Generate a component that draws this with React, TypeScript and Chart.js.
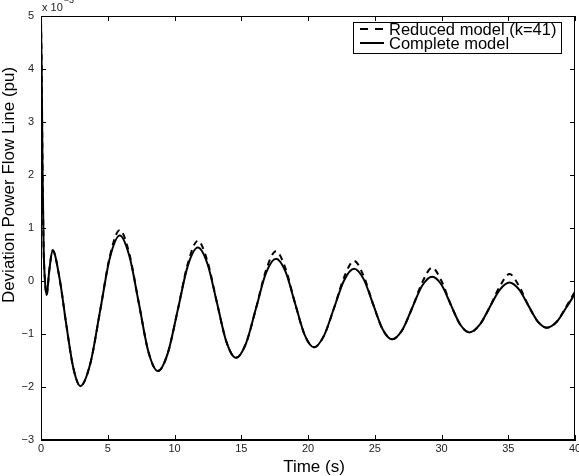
import { useEffect, useRef } from 'react';
import { Chart, registerables } from 'chart.js';

Chart.register(...registerables);

// ---- data (deviation values in units of 1e-3 pu) ----
const time = [
  0, 0.05, 0.12, 0.2, 0.3, 0.42, 0.62, 0.87,
  1.39, 1.91, 2.43, 2.95,
  3.69, 4.43, 5.16, 5.9,
  6.61, 7.33, 8.04, 8.75,
  9.5, 10.25, 11.0, 11.75,
  12.46, 13.18, 13.89, 14.6,
  15.35, 16.1, 16.85, 17.6,
  18.31, 19.03, 19.74, 20.45,
  21.2, 21.95, 22.7, 23.45,
  24.16, 24.88, 25.59, 26.3,
  27.05, 27.8, 28.55, 29.3,
  30.0, 30.7, 31.4, 32.1,
  32.85, 33.6, 34.35, 35.1,
  35.8, 36.5, 37.2, 37.9,
  38.63, 39.35, 40,
];

const completeModel = [
  4.9, 4.0, 2.0, 0.6, 0.0, -0.27, 0.2, 0.58,
  0.05, -0.85, -1.65, -1.98,
  -1.56, -0.56, 0.44, 0.86,
  0.48, -0.42, -1.33, -1.70,
  -1.36, -0.54, 0.29, 0.63,
  0.33, -0.41, -1.15, -1.45,
  -1.18, -0.52, 0.15, 0.42,
  0.18, -0.42, -1.01, -1.25,
  -1.03, -0.51, 0.01, 0.23,
  0.04, -0.44, -0.91, -1.10,
  -0.93, -0.51, -0.09, 0.08,
  -0.07, -0.45, -0.82, -0.97,
  -0.83, -0.50, -0.17, -0.03,
  -0.16, -0.46, -0.76, -0.88,
  -0.77, -0.50, -0.24,
];

const reducedModel = [
  4.9, 4.0, 2.0, 0.6, 0.0, -0.27, 0.2, 0.58,
  0.05, -0.85, -1.65, -1.98,
  -1.56, -0.56, 0.47, 0.96,
  0.52, -0.42, -1.33, -1.70,
  -1.36, -0.54, 0.33, 0.76,
  0.38, -0.41, -1.15, -1.45,
  -1.18, -0.52, 0.20, 0.56,
  0.24, -0.42, -1.01, -1.25,
  -1.03, -0.51, 0.07, 0.38,
  0.10, -0.44, -0.91, -1.10,
  -0.93, -0.51, -0.03, 0.25,
  0.00, -0.45, -0.82, -0.97,
  -0.83, -0.50, -0.11, 0.13,
  -0.09, -0.46, -0.76, -0.88,
  -0.77, -0.48, -0.20,
];

const xTicks = [0, 5, 10, 15, 20, 25, 30, 35, 40];
const yTicks = [-3, -2, -1, 0, 1, 2, 3, 4, 5];
const legendLabels = ['Reduced model (k=41)', 'Complete model'];
const xTitle = 'Time (s)';
const yTitle = 'Deviation Power Flow Line (pu)';
const exponentBase = 'x 10';
const exponentPower = '\u22123';

const FONT = '"Liberation Sans", Arial, Helvetica, sans-serif';
const DASH = [6, 5];

const framePlugin = {
  id: 'matlabFrame',
  afterDraw(chart: any) {
    const { ctx, chartArea: a, scales } = chart;
    const xs = scales.x;
    const ys = scales.y;
    ctx.save();
    ctx.strokeStyle = '#000';
    ctx.lineWidth = 1;
    ctx.setLineDash([]);
    // box
    ctx.strokeRect(Math.round(a.left) + 0.5, Math.round(a.top) + 0.5,
      Math.round(a.right - a.left) - 1, Math.round(a.bottom - a.top) - 1);
    // inward ticks
    const tl = 5;
    ctx.beginPath();
    xTicks.forEach((v) => {
      const px = Math.round(xs.getPixelForValue(v)) + 0.5;
      ctx.moveTo(px, a.bottom);
      ctx.lineTo(px, a.bottom - tl);
      ctx.moveTo(px, a.top);
      ctx.lineTo(px, a.top + tl);
    });
    yTicks.forEach((v) => {
      const py = Math.round(ys.getPixelForValue(v)) + 0.5;
      ctx.moveTo(a.left, py);
      ctx.lineTo(a.left + tl, py);
      ctx.moveTo(a.right, py);
      ctx.lineTo(a.right - tl, py);
    });
    ctx.stroke();

    // exponent label
    ctx.fillStyle = '#222';
    ctx.textAlign = 'left';
    ctx.textBaseline = 'alphabetic';
    ctx.font = `11px ${FONT}`;
    ctx.fillText(exponentBase, 42, 11);
    const w = ctx.measureText(exponentBase).width;
    ctx.font = `9px ${FONT}`;
    ctx.fillText(exponentPower, 42 + w + 1, 3);

    // axis titles
    ctx.fillStyle = '#000';
    ctx.font = `17px ${FONT}`;
    ctx.textAlign = 'center';
    ctx.fillText(xTitle, 314, 472);
    ctx.save();
    ctx.translate(9, 185);
    ctx.rotate(-Math.PI / 2);
    ctx.textBaseline = 'middle';
    ctx.fillText(yTitle, 0, 0);
    ctx.restore();

    // legend
    const lx = 353, ly = 22, lw = 208, lh = 31;
    ctx.fillStyle = '#fff';
    ctx.fillRect(lx, ly, lw, lh);
    ctx.strokeStyle = '#000';
    ctx.lineWidth = 1;
    ctx.strokeRect(lx + 0.5, ly + 0.5, lw, lh);
    const rows = [29, 43];
    ctx.lineWidth = 2;
    rows.forEach((ry, i) => {
      ctx.setLineDash(i === 0 ? [8, 7] : []);
      ctx.beginPath();
      ctx.moveTo(360, ry);
      ctx.lineTo(384, ry);
      ctx.stroke();
    });
    ctx.setLineDash([]);
    ctx.fillStyle = '#000';
    ctx.font = `16.5px ${FONT}`;
    ctx.textAlign = 'left';
    ctx.textBaseline = 'alphabetic';
    ctx.fillText(legendLabels[0], 389, 35);
    ctx.fillText(legendLabels[1], 389, 49);
    ctx.restore();
  },
};

export default function App() {
  const ref = useRef<HTMLCanvasElement>(null);
  useEffect(() => {
    document.body.style.margin = '0';
    const canvas = ref.current;
    if (!canvas) return;
    const chart = new Chart(canvas, {
      type: 'line',
      data: {
        datasets: [
          {
            label: legendLabels[0],
            data: time.map((t, i) => ({ x: t, y: reducedModel[i] })),
            borderColor: '#000',
            borderWidth: 2,
            borderDash: DASH,
            pointRadius: 0,
            fill: false,
            cubicInterpolationMode: 'monotone',
          },
          {
            label: legendLabels[1],
            data: time.map((t, i) => ({ x: t, y: completeModel[i] })),
            borderColor: '#000',
            borderWidth: 2,
            pointRadius: 0,
            fill: false,
            cubicInterpolationMode: 'monotone',
          },
        ],
      },
      options: {
        animation: false,
        responsive: false,
        devicePixelRatio: 1,
        layout: { padding: { top: 16, right: 4, left: 0, bottom: 0 } },
        plugins: {
          legend: { display: false },
          tooltip: { enabled: false },
        },
        scales: {
          x: {
            type: 'linear',
            min: 0,
            max: 40,
            ticks: {
              stepSize: 5,
              color: '#222',
              font: { family: FONT, size: 11 },
              padding: 2,
              maxRotation: 0,
              autoSkip: false,
            },
            grid: { display: false, drawTicks: false },
            border: { display: true, color: '#000', width: 1 },
            afterFit(s: any) {
              s.height = 36;
              s.paddingLeft = 0;
              s.paddingRight = 0;
            },
          },
          y: {
            type: 'linear',
            min: -3,
            max: 5,
            ticks: {
              stepSize: 1,
              color: '#222',
              font: { family: FONT, size: 11 },
              padding: 7,
              callback: (v: any) => (v < 0 ? '\u2212' + Math.abs(v) : String(v)),
            },
            grid: { display: false, drawTicks: false },
            border: { display: true, color: '#000', width: 1 },
            afterFit(s: any) {
              s.width = 41;
              s.paddingTop = 0;
              s.paddingBottom = 0;
            },
          },
        },
      },
      plugins: [framePlugin],
    } as any);
    return () => chart.destroy();
  }, []);
  return (
    <div style={{ width: 579, height: 476 }}>
      <canvas ref={ref} width={579} height={476} style={{ display: 'block' }} />
    </div>
  );
}
